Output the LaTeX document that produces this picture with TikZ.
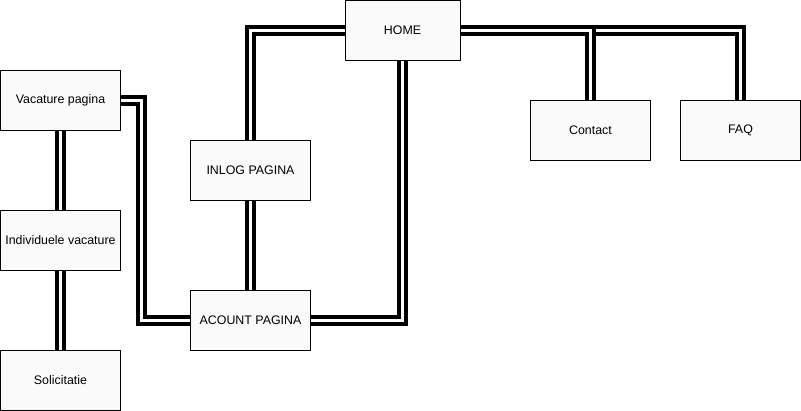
\documentclass[tikz,border=0pt]{standalone}
\usepackage{fontspec}
\setmainfont{Liberation Sans}
\usepackage{tikz}
\usetikzlibrary{calc}
\definecolor{boxfill}{RGB}{250,250,250}
\tikzset{
	page/.style={draw, fill=boxfill, line width=1pt, minimum width=120pt, minimum height=60pt, inner sep=0pt, font=\fontsize{12.4}{14}\selectfont},
	link/.style={double, double distance=3pt, line width=4pt, line join=miter}
}
\begin{document}
\begin{tikzpicture}[x=1pt, y=-1pt]
				\useasboundingbox (0,0) rectangle (801,411);
				\node[page, minimum width=115pt] (home) at (402.5,30.5) {HOME};
				\node[page] (contact) at (590.5,130.5) {Contact};
				\node[page] (faq) at (740.5,130.5) {FAQ};
				\node[page] (vacature) at (60.5,100.5) {Vacature pagina};
				\node[page] (individueel) at (60.5,240.5) {Individuele vacature};
				\node[page] (solicitatie) at (60.5,380.5) {Solicitatie};
				\node[page] (inlog) at (250.5,170.5) {INLOG PAGINA};
				\node[page] (acount) at (250.5,320.5) {ACOUNT PAGINA};
				% verbindingen
				\draw[link] (home.west) -| (inlog.north);
				\draw[link] (home.south) |- (acount.east);
				\draw[link] (home.east) -| (faq.north);
				\draw[link] (home.east) -| (contact.north);
				\draw[link] (vacature.east) -- ++(20.5,0) |- (acount.west);
				\draw[link] (vacature.south) -- (individueel.north);
				\draw[link] (individueel.south) -- (solicitatie.north);
				\draw[link] (inlog.south) -- (acount.north);
			\end{tikzpicture}
\end{document}
